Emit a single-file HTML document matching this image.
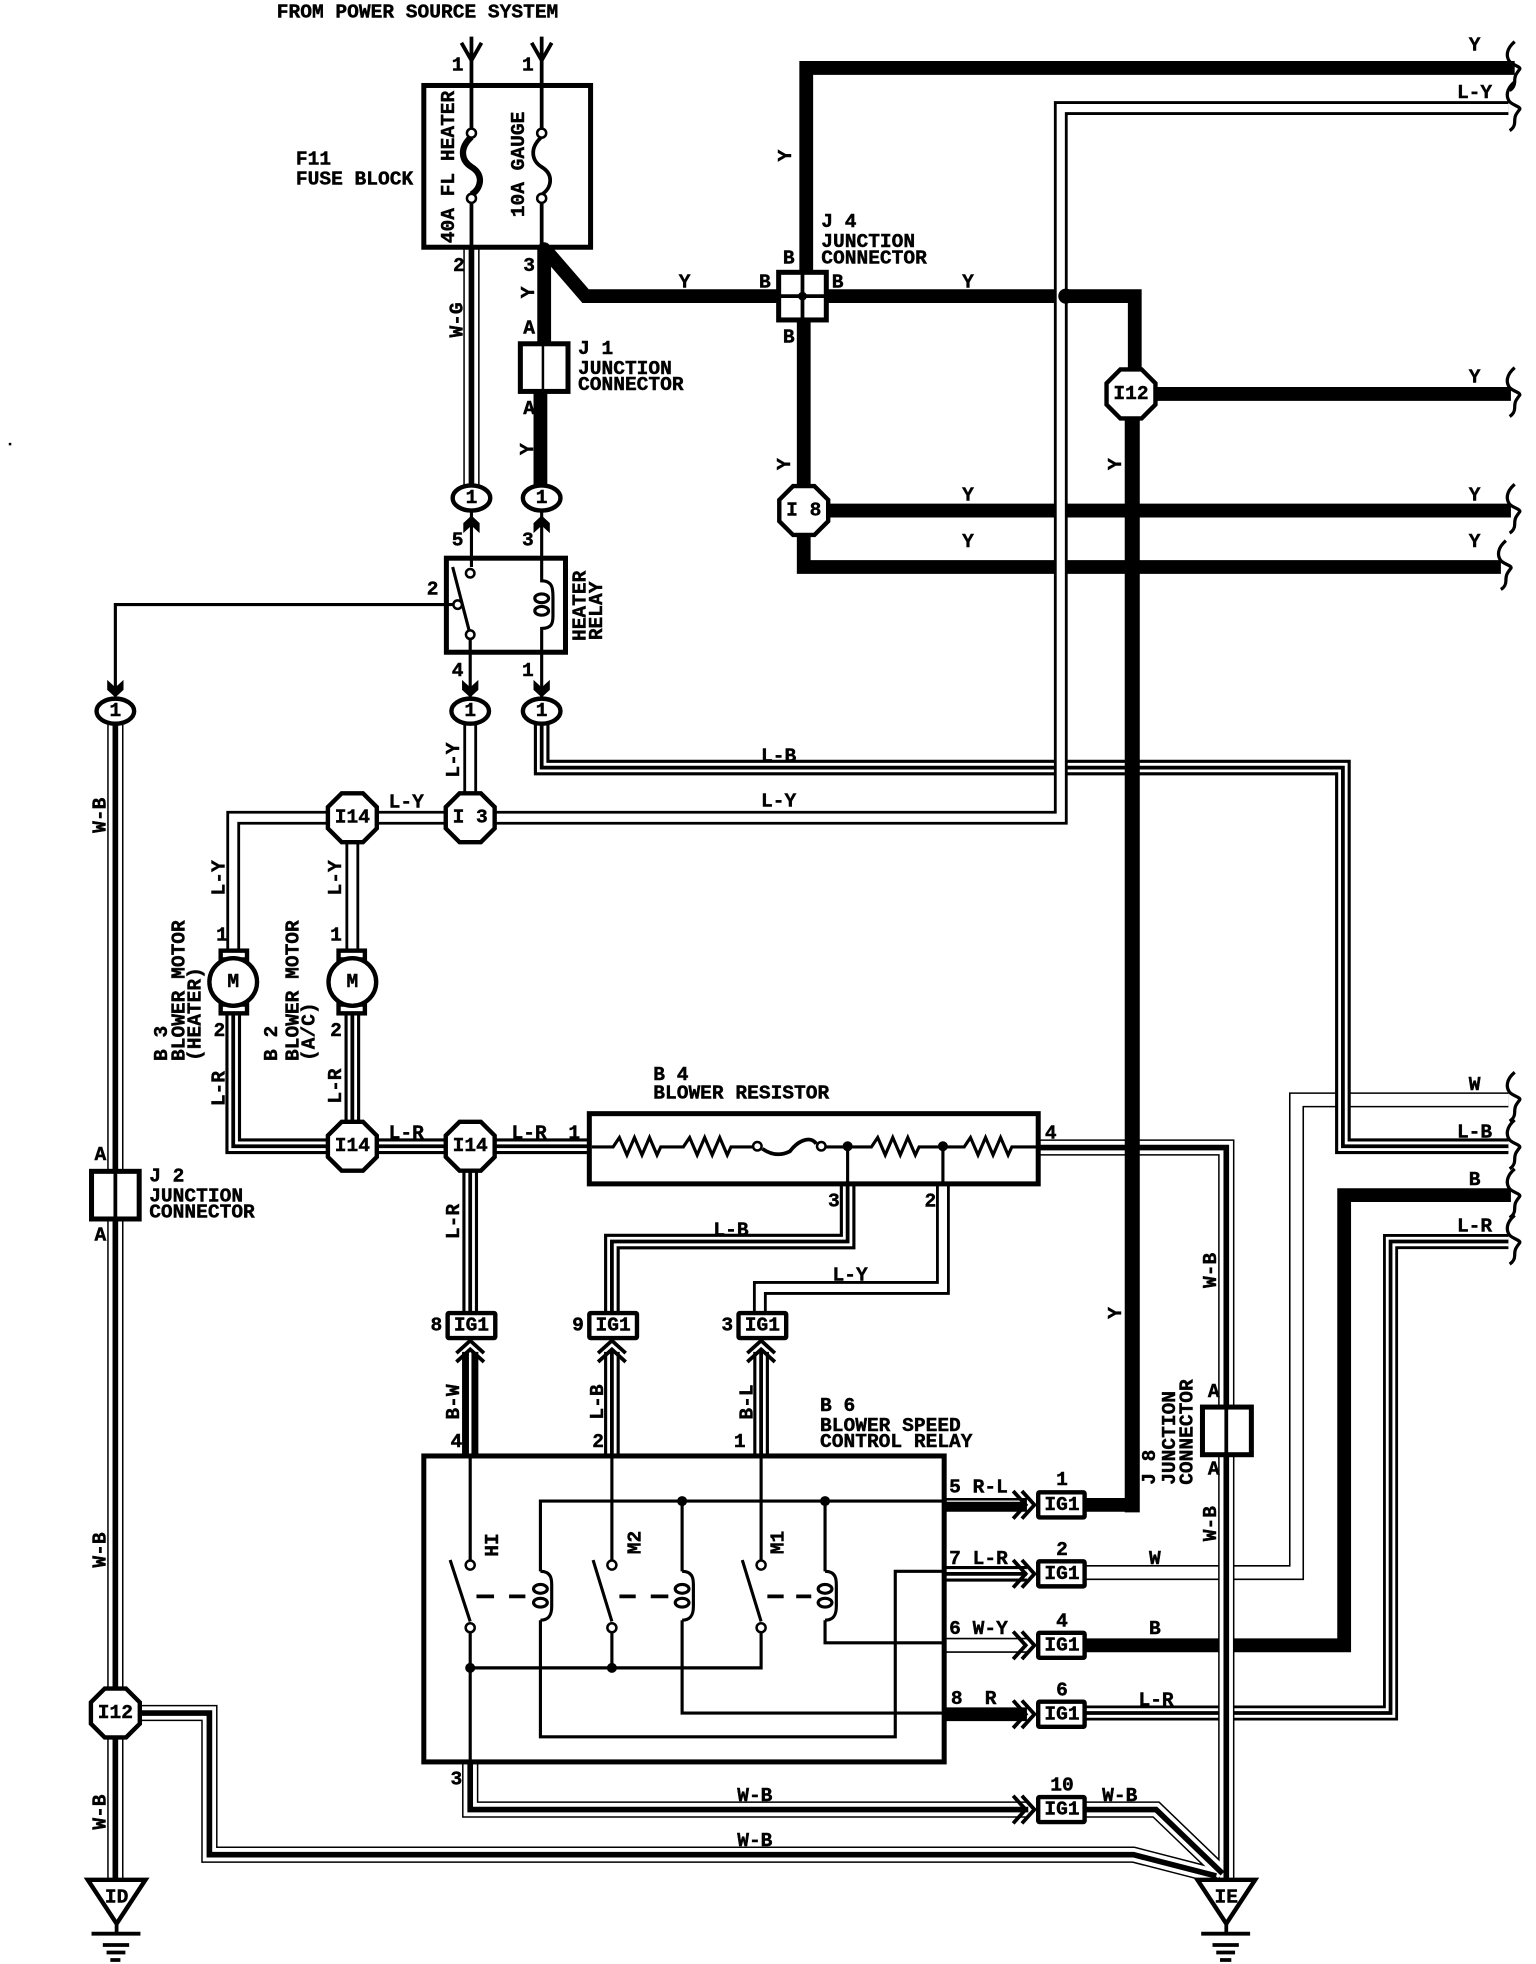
<!DOCTYPE html>
<html><head><meta charset="utf-8"><style>
html,body{margin:0;padding:0;background:#fff}
svg{display:block}
text{font-family:"Liberation Mono",monospace;font-weight:bold;font-size:15.6px;fill:#000;stroke:#000;stroke-width:.35;text-anchor:middle;dominant-baseline:central}
text.l{text-anchor:start}
.n{fill:none;stroke:#000;stroke-linejoin:miter}
.s2{stroke-width:2}.s25{stroke-width:2.5}.s3{stroke-width:3}.s4{stroke-width:4}
.box{fill:#fff;stroke:#000;stroke-width:4}
.oc{fill:#fff;stroke:#000;stroke-width:3.5}
.c{fill:#fff;stroke:#000;stroke-width:2}
.d{fill:#000}
</style></head><body>
<svg xmlns="http://www.w3.org/2000/svg" width="1536" height="1964" viewBox="0 0 1225 1566">
<defs>
<path id="thin" d="M866 1254H1034V877H1203M753 1312H819"/>
<path id="lr1" d="M866 1366H1109V990H1203"/>
<path id="ly" d="M375 652H846V86H1203M375 578V640M375 652H186V765M281 665V760M752 945V1027H606V1046"/>
<path id="tri" d="M186 803V914H470M281 803V914M375 914V1046M432 578V612H1071V914H1203M676 945V990H488V1046M488 1078V1160M607 1078V1160M753 1255H819"/>
<path id="wb" d="M376 197V390M92 578V1355M92 1380V1498M112 1366H167V1479H904L970 1496M375 1405V1443H820M866 1443H922L975 1494M828 915H978V1498"/>
<polygon id="chev" points="-6.5,-14 0,-8 6.5,-14 6.5,-6 0,0 -6.5,-6"/>
<path id="oct" d="M-19.5 -8.5L-8.5 -19.5H8.5L19.5 -8.5V8.5L8.5 19.5H-8.5L-19.5 8.5Z"/>
<path id="dch" d="M-11 10L0 0L11 10M-11 17L0 7L11 17" fill="none" stroke="#000" stroke-width="3"/>
<path id="brace" d="M2 -21C-5 -15 -5 -9 -2 -5C1 -2 7 -1 6 1C3 5 2 6 2 11C2 14 1 16 -2 18" fill="none" stroke="#000" stroke-width="2.6"/>
</defs>

<!-- thin / lower layer wires -->
<g fill="none" stroke-linejoin="miter">
<use href="#thin" stroke="#000" stroke-width="12"/><use href="#thin" stroke="#fff" stroke-width="9.5"/>
<use href="#lr1" stroke="#000" stroke-width="12"/><use href="#lr1" stroke="#fff" stroke-width="7.5"/><use href="#lr1" stroke="#000" stroke-width="3"/>
<path d="M866 1312H1072V953H1205M435 199L467 236H620M434 197V273M431 313V392M659 236H905V298M643 216V54H1208M641 256V452H1197M660 407H1205M922 314H1205M753 1367H819M866 1200H903M753 1200H819" stroke="#000" stroke-width="11"/>
<path d="M755 1197H815" stroke="#fff" stroke-width="1"/>
<use href="#tri" stroke="#000" stroke-width="12.5"/><use href="#tri" stroke="#fff" stroke-width="7.500"/><use href="#tri" stroke="#000" stroke-width="3"/>
<use href="#ly" stroke="#000" stroke-width="11"/><use href="#ly" stroke="#fff" stroke-width="6.5"/>
<use href="#wb" stroke="#000" stroke-width="13"/><use href="#wb" stroke="#fff" stroke-width="10.6"/><use href="#wb" stroke="#000" stroke-width="4.5"/>
<path d="M903 333V1206" stroke="#000" stroke-width="12"/>
<path d="M375 1078V1160" stroke="#000" stroke-width="13"/><path d="M375 1078V1160" stroke="#fff" stroke-width="2"/>
</g>
<circle cx="850" cy="236" r="6" class="d"/>

<!-- top feed -->
<g class="n s3">
<path d="M376 29V68M368 34L376 48L384 34M432 29V68M424 34L432 48L440 34"/>
<rect x="338" y="68" width="133" height="129" class="box"/>
<path d="M376 66V103M376 161V197M432 66V103M432 161V197"/>
<path d="M376 109C366 118 368 128 376 133C386 139 384 150 376 155" stroke-width="5"/>
<path d="M432 109C422 118 424 128 432 133C442 139 440 150 432 155" stroke-width="3"/>
</g>
<circle cx="376" cy="106" r="3.6" class="c"/><circle cx="376" cy="158" r="3.6" class="c"/>
<circle cx="432" cy="106" r="3.6" class="c"/><circle cx="432" cy="158" r="3.6" class="c"/>
<circle cx="434" cy="198" r="5" class="d"/>

<!-- J1, J4, J2, J8 -->
<rect x="415" y="274" width="38" height="38" class="box"/><path d="M433 274V312" class="n s2"/>
<rect x="621" y="217" width="38" height="38" class="box"/><path d="M640 217V255M621 236H659" class="n s3"/><circle cx="640" cy="236" r="3.5" class="d"/>
<rect x="73" y="934" width="38" height="38" class="box"/><path d="M92 934V972" class="n s3"/>
<rect x="959" y="1122" width="39" height="38" class="box"/><path d="M978 1122V1160" class="n s3"/>

<!-- relay -->
<rect x="356" y="445" width="95" height="75" class="box"/>
<g class="n s25">
<path d="M376 408V452M432 408V463C441 463 441 470 441 476V491C441 497 440 501 432 501V556M375 510V556M92 555V482H361M361 452L375 506"/>
<ellipse cx="432" cy="477" rx="5.500" ry="3.500"/><ellipse cx="432" cy="487" rx="5.500" ry="3.500"/>
</g>
<circle cx="375" cy="457" r="3.4" class="c"/><circle cx="365" cy="482" r="3.4" class="c"/><circle cx="375" cy="506" r="3.4" class="c"/>
<use href="#chev" transform="translate(376 411) scale(1 -1)"/><use href="#chev" transform="translate(432 411) scale(1 -1)"/>
<use href="#chev" x="375" y="556"/><use href="#chev" x="432" y="556"/><use href="#chev" x="92" y="556"/>
<g class="oc"><ellipse cx="376" cy="397" rx="15" ry="10"/><ellipse cx="432" cy="397" rx="15" ry="10"/><ellipse cx="375" cy="567" rx="15" ry="10"/><ellipse cx="432" cy="567" rx="15" ry="10"/><ellipse cx="92" cy="567" rx="15" ry="10"/></g>

<!-- octagons -->
<use href="#oct" x="641" y="407" class="oc"/><use href="#oct" x="902" y="314" class="oc"/>
<use href="#oct" x="281" y="652" class="oc"/><use href="#oct" x="375" y="652" class="oc"/>
<use href="#oct" x="281" y="914" class="oc"/><use href="#oct" x="375" y="914" class="oc"/>
<use href="#oct" x="92" y="1366" class="oc"/>

<!-- motors -->
<g class="oc"><rect x="176" y="758" width="21" height="7"/><rect x="176" y="801" width="21" height="7"/><circle cx="186" cy="783" r="19"/>
<rect x="270" y="758" width="21" height="7"/><rect x="270" y="801" width="21" height="7"/><circle cx="281" cy="783" r="19"/></g>

<!-- resistor -->
<rect x="470" y="888" width="358" height="56" class="box"/>
<g class="n s25">
<path d="M472 914.500H489L494 907L500 921L506 907L512 921L518 907L524 921L527 914.500H545L550 907L556 921L562 907L568 921L574 907L580 921L583 914.500H600M659 914.500H695L700 907L706 921L712 907L718 921L724 907L730 921L733 914.500H769L774 907L780 921L786 907L792 921L798 907L804 921L807 914.500H828M676 914V945M752 914V945"/>
<path d="M608 916C615 921 622 922 630 918C636 910 646 905 651 912" stroke-width="3"/>
</g>
<circle cx="604" cy="914" r="3.4" class="c"/><circle cx="655" cy="914" r="3.4" class="c"/>
<circle cx="676" cy="914" r="4" class="d"/><circle cx="752" cy="914" r="4" class="d"/>

<!-- speed relay -->
<rect x="338" y="1161" width="415" height="244" fill="#fff" stroke="#000" stroke-width="4"/>
<g class="n s25">
<path d="M375 1161V1244M488 1161V1244M607 1161V1244"/>
<path d="M375 1302V1405M488 1302V1330M607 1302V1330H375"/>
<path d="M359 1244L375 1293M473 1244L488 1293M592 1244L607 1293"/>
<path d="M431 1253V1197H753M544 1197V1253M658 1197V1253"/>
<path d="M431 1292V1385H714V1253H753M544 1292V1366H753M658 1292V1310H753"/>
<path d="M431 1253C440 1253 440 1260 440 1264V1281C440 1286 439 1292 431 1292M544 1253C553 1253 553 1260 553 1264V1281C553 1286 552 1292 544 1292M658 1253C667 1253 667 1260 667 1264V1281C667 1286 666 1292 658 1292"/>
<ellipse cx="431" cy="1267" rx="5.500" ry="3.500"/><ellipse cx="431" cy="1278" rx="5.500" ry="3.500"/><ellipse cx="544" cy="1267" rx="5.500" ry="3.500"/><ellipse cx="544" cy="1278" rx="5.500" ry="3.500"/><ellipse cx="658" cy="1267" rx="5.500" ry="3.500"/><ellipse cx="658" cy="1278" rx="5.500" ry="3.500"/>
<path d="M380 1273H394M406 1273H419M494 1273H507M519 1273H533M612 1273H625M635 1273H647" stroke-width="3"/>
</g>
<g class="c"><circle cx="375" cy="1248" r="3.6"/><circle cx="375" cy="1298" r="3.6"/><circle cx="488" cy="1248" r="3.6"/><circle cx="488" cy="1298" r="3.6"/><circle cx="607" cy="1248" r="3.6"/><circle cx="607" cy="1298" r="3.6"/></g>
<g class="d"><circle cx="375" cy="1330" r="4"/><circle cx="488" cy="1330" r="4"/><circle cx="544" cy="1197" r="4"/><circle cx="658" cy="1197" r="4"/></g>

<!-- IG1 connectors and chevrons -->
<use href="#dch" x="375" y="1069"/><use href="#dch" x="488" y="1069"/><use href="#dch" x="607" y="1069"/>
<use href="#dch" transform="translate(825 1200) rotate(90)"/><use href="#dch" transform="translate(825 1255) rotate(90)"/><use href="#dch" transform="translate(825 1312) rotate(90)"/><use href="#dch" transform="translate(825 1367) rotate(90)"/><use href="#dch" transform="translate(825 1443) rotate(90)"/>
<g fill="#fff" stroke="#000" stroke-width="3.5">
<rect x="357" y="1047" width="38" height="20" rx="1"/><rect x="470" y="1047" width="38" height="20" rx="1"/><rect x="589" y="1047" width="38" height="20" rx="1"/>
<rect x="828" y="1190" width="37" height="20" rx="1"/><rect x="828" y="1245" width="37" height="20" rx="1"/><rect x="828" y="1302" width="37" height="20" rx="1"/><rect x="828" y="1357" width="37" height="20" rx="1"/><rect x="828" y="1433" width="37" height="20" rx="1"/>
</g>

<!-- grounds -->
<path d="M70 1499H116L93 1534Z" fill="#fff" stroke="#000" stroke-width="3.5"/>
<path d="M955 1499H1001L978 1534Z" fill="#fff" stroke="#000" stroke-width="3.5"/>
<path d="M93 1534V1542M73 1542H112M82 1551H103M85 1557H100M88 1563H96M978 1534V1542M958 1542H997M967 1551H988M970 1557H985M973 1563H982" class="n s3"/>

<!-- braces -->
<use href="#brace" x="1206" y="54"/><use href="#brace" x="1206" y="86"/><use href="#brace" x="1206" y="314"/><use href="#brace" x="1206" y="407"/><use href="#brace" x="1199" y="452"/>
<use href="#brace" x="1206" y="876"/><use href="#brace" x="1206" y="914"/><use href="#brace" x="1206" y="953"/><use href="#brace" x="1206" y="990"/>
<rect x="7" y="353" width="2" height="2" class="d"/>

<!-- text -->
<text x="333" y="10">FROM POWER SOURCE SYSTEM</text>
<text x="365" y="52">1</text><text x="421" y="52">1</text>
<text transform="translate(358 133) rotate(-90)">40A FL HEATER</text>
<text transform="translate(414 131) rotate(-90)">10A GAUGE</text>
<text class="l" x="236" y="127">F11</text><text class="l" x="236" y="143">FUSE BLOCK</text>
<text x="366" y="212">2</text><text x="422" y="212">3</text>
<text transform="translate(365 255) rotate(-90)">W-G</text>
<text transform="translate(422 233) rotate(-90)">Y</text>
<text x="422" y="262">A</text><text x="422" y="326">A</text>
<text transform="translate(421 358) rotate(-90)">Y</text>
<text class="l" x="461" y="278">J 1</text><text class="l" x="461" y="294">JUNCTION</text><text class="l" x="461" y="307">CONNECTOR</text>
<text class="l" x="655" y="177">J 4</text><text class="l" x="655" y="193">JUNCTION</text><text class="l" x="655" y="206">CONNECTOR</text>
<text x="546" y="225">Y</text><text x="772" y="225">Y</text>
<text x="629" y="206">B</text><text x="610" y="225">B</text><text x="668" y="225">B</text><text x="629" y="269">B</text>
<text transform="translate(627 124) rotate(-90)">Y</text><text transform="translate(626 370) rotate(-90)">Y</text>
<text transform="translate(890 370) rotate(-90)">Y</text><text transform="translate(890 1047) rotate(-90)">Y</text>
<text x="1176" y="36">Y</text><text x="1176" y="74">L-Y</text><text x="1176" y="301">Y</text><text x="1176" y="395">Y</text><text x="1176" y="432">Y</text>
<text x="772" y="395">Y</text><text x="772" y="432">Y</text>
<text x="641" y="407">I 8</text><text x="902" y="314">I12</text>
<text x="376" y="397">1</text><text x="432" y="397">1</text><text x="375" y="567">1</text><text x="432" y="567">1</text><text x="92" y="567">1</text>
<text x="365" y="431">5</text><text x="421" y="431">3</text><text x="345" y="470">2</text><text x="365" y="535">4</text><text x="421" y="535">1</text>
<text transform="translate(463 483) rotate(-90)">HEATER</text><text transform="translate(476 487) rotate(-90)">RELAY</text>
<text x="281" y="652">I14</text><text x="375" y="652">I 3</text><text x="281" y="914">I14</text><text x="375" y="914">I14</text><text x="92" y="1366">I12</text>
<text x="324" y="640">L-Y</text><text x="621" y="639">L-Y</text><text x="621" y="603">L-B</text>
<text transform="translate(362 606) rotate(-90)">L-Y</text>
<text transform="translate(175 700) rotate(-90)">L-Y</text><text transform="translate(268 700) rotate(-90)">L-Y</text>
<text x="177" y="746">1</text><text x="268" y="746">1</text><text x="175" y="822">2</text><text x="268" y="822">2</text>
<text transform="translate(175 868) rotate(-90)">L-R</text><text transform="translate(268 866) rotate(-90)">L-R</text>
<text x="186" y="783">M</text><text x="281" y="783">M</text>
<text class="l" transform="translate(129 846) rotate(-90)">B 3</text><text class="l" transform="translate(143 846) rotate(-90)">BLOWER MOTOR</text><text class="l" transform="translate(156 846) rotate(-90)">(HEATER)</text>
<text class="l" transform="translate(217 846) rotate(-90)">B 2</text><text class="l" transform="translate(234 846) rotate(-90)">BLOWER MOTOR</text><text class="l" transform="translate(247 846) rotate(-90)">(A/C)</text>
<text x="324" y="904">L-R</text><text x="422" y="904">L-R</text><text x="458" y="904">1</text><text x="838" y="904">4</text>
<text class="l" x="521" y="857">B 4</text><text class="l" x="521" y="872">BLOWER RESISTOR</text>
<text x="665" y="958">3</text><text x="742" y="958">2</text><text x="583" y="981">L-B</text><text x="678" y="1017">L-Y</text>
<text transform="translate(362 974) rotate(-90)">L-R</text>
<text x="80" y="921">A</text><text x="80" y="985">A</text>
<text class="l" x="119" y="938">J 2</text><text class="l" x="119" y="954">JUNCTION</text><text class="l" x="119" y="967">CONNECTOR</text>
<text transform="translate(80 650) rotate(-90)">W-B</text><text transform="translate(80 1236) rotate(-90)">W-B</text><text transform="translate(80 1445) rotate(-90)">W-B</text>
<text x="348" y="1057">8</text><text x="461" y="1057">9</text><text x="580" y="1057">3</text>
<text x="376" y="1057">IG1</text><text x="489" y="1057">IG1</text><text x="608" y="1057">IG1</text>
<text transform="translate(362 1118) rotate(-90)">B-W</text><text transform="translate(477 1118) rotate(-90)">L-B</text><text transform="translate(596 1118) rotate(-90)">B-L</text>
<text x="364" y="1150">4</text><text x="477" y="1150">2</text><text x="590" y="1150">1</text>
<text class="l" x="654" y="1121">B 6</text><text class="l" x="654" y="1137">BLOWER SPEED</text><text class="l" x="654" y="1150">CONTROL RELAY</text>
<text transform="translate(393 1232) rotate(-90)">HI</text>
<text transform="translate(507 1230) rotate(-90)">M2</text><text transform="translate(621 1230) rotate(-90)">M1</text>
<text class="l" x="757" y="1186">5 R-L</text><text class="l" x="757" y="1243">7 L-R</text><text class="l" x="757" y="1299">6 W-Y</text>
<text x="763" y="1355">8</text><text x="790" y="1355">R</text>
<text x="847" y="1180">1</text><text x="847" y="1236">2</text><text x="847" y="1293">4</text><text x="847" y="1348">6</text><text x="847" y="1424">10</text>
<text x="847" y="1200">IG1</text><text x="847" y="1255">IG1</text><text x="847" y="1312">IG1</text><text x="847" y="1367">IG1</text><text x="847" y="1443">IG1</text>
<text x="921" y="1243">W</text><text x="921" y="1299">B</text><text x="922" y="1356">L-R</text><text x="893" y="1432">W-B</text>
<text x="602" y="1432">W-B</text><text x="602" y="1468">W-B</text><text x="364" y="1419">3</text>
<text transform="translate(966 1013) rotate(-90)">W-B</text><text transform="translate(966 1215) rotate(-90)">W-B</text>
<text x="968" y="1110">A</text><text x="968" y="1172">A</text>
<text class="l" transform="translate(917 1184) rotate(-90)">J 8</text><text class="l" transform="translate(933 1184) rotate(-90)">JUNCTION</text><text class="l" transform="translate(947 1184) rotate(-90)">CONNECTOR</text>
<text x="1176" y="865">W</text><text x="1176" y="903">L-B</text><text x="1176" y="941">B</text><text x="1176" y="978">L-R</text>
<text x="93" y="1513">ID</text><text x="978" y="1513">IE</text>
</svg>
</body></html>
